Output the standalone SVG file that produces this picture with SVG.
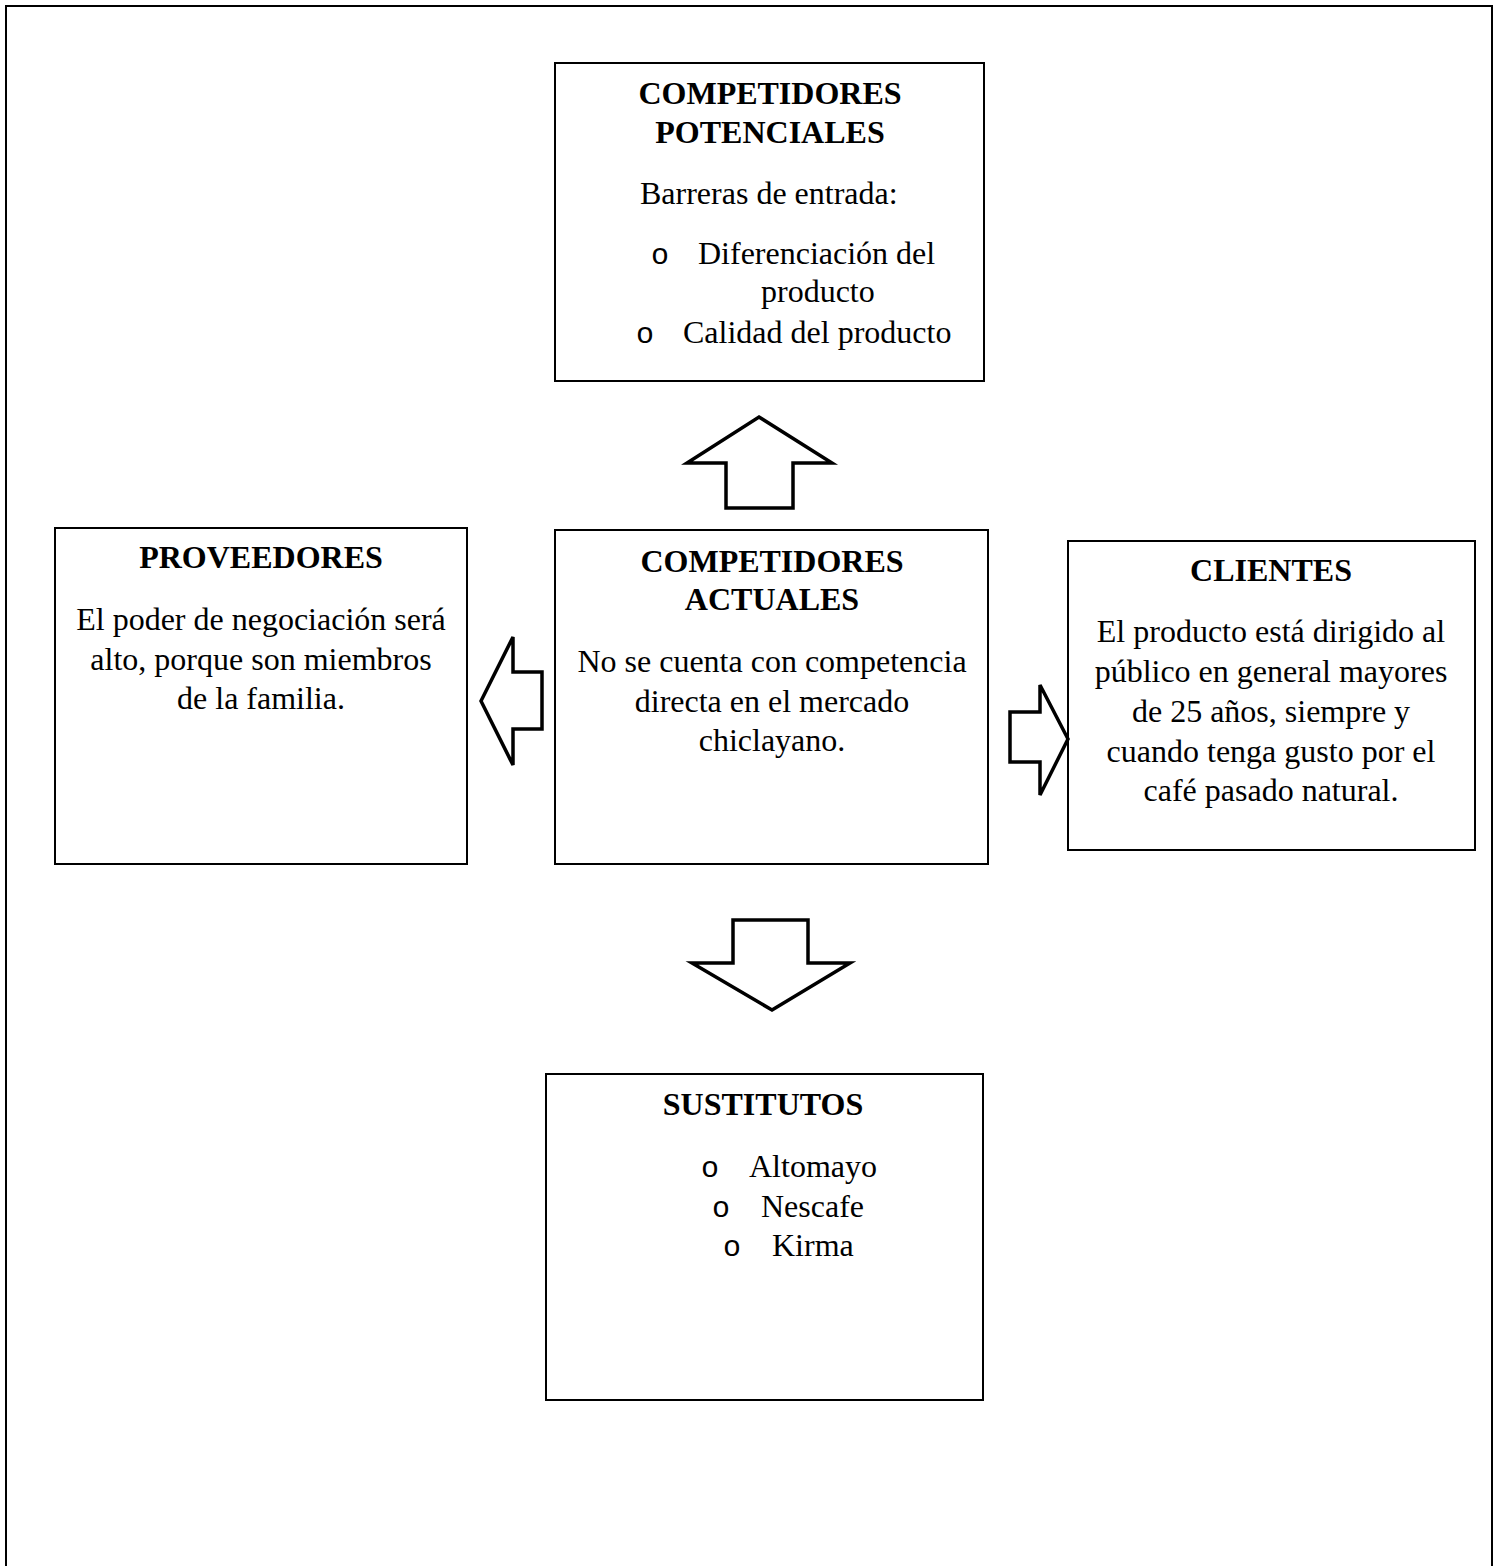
<svg xmlns="http://www.w3.org/2000/svg" width="1501" height="1566" viewBox="0 0 1501 1566">
<style>
.box{fill:#fff;stroke:#000;stroke-width:2}
.arr{fill:#fff;stroke:#000;stroke-width:3.5;stroke-linejoin:miter}
text{font-family:"Liberation Serif","Times New Roman",serif;font-size:32px;fill:#000}
.h{font-weight:bold;text-anchor:middle}
.c{text-anchor:middle}
.b{font-family:"Liberation Mono","Courier New",monospace;font-size:30px}
</style>
<rect x="0" y="0" width="1501" height="1566" fill="#fff"/>
<path d="M6,1570 V6 H1492 V1570" fill="none" stroke="#000" stroke-width="2"/>
<g id="potenciales">
<rect class="box" x="555" y="63" width="429" height="318"/>
<text class="h" x="770" y="104">COMPETIDORES</text>
<text class="h" x="770" y="143">POTENCIALES</text>
<text x="640" y="204">Barreras de entrada:</text>
<text class="b" x="651" y="264">o</text>
<text x="698" y="264">Diferenciación del</text>
<text x="761" y="302">producto</text>
<text class="b" x="636" y="343">o</text>
<text x="683" y="343">Calidad del producto</text>
</g>
<g id="proveedores">
<rect class="box" x="55" y="528" width="412" height="336"/>
<text class="h" x="261" y="568">PROVEEDORES</text>
<text class="c" x="261" y="630">El poder de negociación será</text>
<text class="c" x="261" y="670">alto, porque son miembros</text>
<text class="c" x="261" y="709">de la familia.</text>
</g>
<g id="actuales">
<rect class="box" x="555" y="530" width="433" height="334"/>
<text class="h" x="772" y="572">COMPETIDORES</text>
<text class="h" x="772" y="610">ACTUALES</text>
<text class="c" x="772" y="672">No se cuenta con competencia</text>
<text class="c" x="772" y="712">directa en el mercado</text>
<text class="c" x="772" y="751">chiclayano.</text>
</g>
<g id="clientes">
<rect class="box" x="1068" y="541" width="407" height="309"/>
<text class="h" x="1271" y="581">CLIENTES</text>
<text class="c" x="1271" y="642">El producto está dirigido al</text>
<text class="c" x="1271" y="682">público en general mayores</text>
<text class="c" x="1271" y="722">de 25 años, siempre y</text>
<text class="c" x="1271" y="762">cuando tenga gusto por el</text>
<text class="c" x="1271" y="801">café pasado natural.</text>
</g>
<g id="sustitutos">
<rect class="box" x="546" y="1074" width="437" height="326"/>
<text class="h" x="763" y="1115">SUSTITUTOS</text>
<text class="b" x="701" y="1177">o</text>
<text x="749" y="1177">Altomayo</text>
<text class="b" x="712" y="1217">o</text>
<text x="761" y="1217">Nescafe</text>
<text class="b" x="723" y="1256">o</text>
<text x="772" y="1256">Kirma</text>
</g>
<g id="connectors">
<polygon class="arr" points="759,417 832,463 793,463 793,508 726,508 726,463 687,463"/>
<polygon class="arr" points="481,701 513,637 513,672 542,672 542,729 513,729 513,765"/>
<polygon class="arr" points="1068,739 1040,685 1040,712 1010,712 1010,762 1040,762 1040,795"/>
<polygon class="arr" points="772,1010 850,963 808,963 808,920 733,920 733,963 692,963"/>
</g>
</svg>
